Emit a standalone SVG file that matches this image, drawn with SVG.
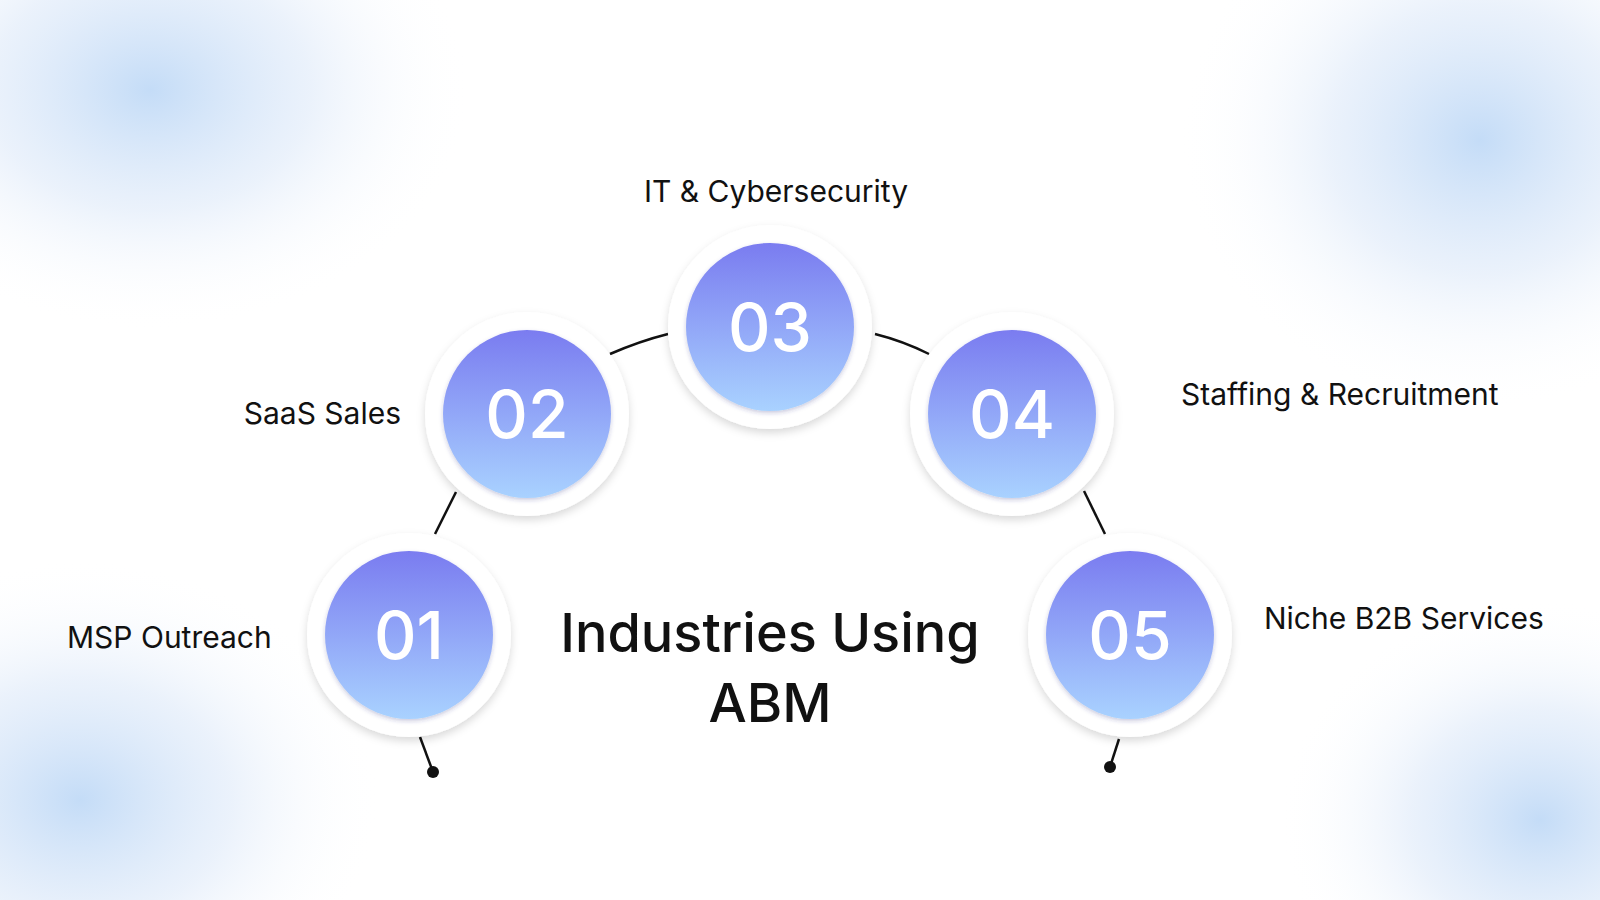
<svg xmlns="http://www.w3.org/2000/svg" width="1600" height="900" viewBox="0 0 1600 900">
<defs>
<radialGradient id="bg" cx="0.5" cy="0.5" r="0.5"><stop offset="0" stop-color="#c4dcf7"/><stop offset="0.5" stop-color="#dde9f9" stop-opacity="0.6"/><stop offset="1" stop-color="#ffffff" stop-opacity="0"/></radialGradient>
<linearGradient id="cg" x1="0" y1="0" x2="0" y2="1"><stop offset="0" stop-color="#7a7cf0"/><stop offset="1" stop-color="#a9d2ff"/></linearGradient>
<filter id="sh" x="-30%" y="-30%" width="160%" height="160%"><feDropShadow dx="0" dy="4" stdDeviation="4" flood-color="#000" flood-opacity="0.15"/></filter>
<filter id="sh2" x="-30%" y="-30%" width="160%" height="160%"><feDropShadow dx="0" dy="2" stdDeviation="2" flood-color="#303080" flood-opacity="0.25"/></filter>
</defs>
<style>
.lbl{font-family:Inter,"Liberation Sans",sans-serif;font-size:30px;fill:#111}
.num{font-family:Inter,"Liberation Sans",sans-serif;font-size:66px;font-weight:500;fill:#fff;text-anchor:middle}
.ttl{font-family:Inter,"Liberation Sans",sans-serif;font-size:54px;font-weight:500;fill:#111;text-anchor:middle}
.con{stroke:#111;stroke-width:2.5;fill:none}
</style>
<rect width="1600" height="900" fill="#fff"/>
<ellipse cx="150" cy="90" rx="320" ry="240" fill="url(#bg)"/>
<ellipse cx="1480" cy="140" rx="300" ry="270" fill="url(#bg)"/>
<ellipse cx="80" cy="800" rx="300" ry="240" fill="url(#bg)"/>
<ellipse cx="1540" cy="820" rx="260" ry="220" fill="url(#bg)"/>
<g id="connectors">
<path class="con" d="M435 534 L456 492"/>
<path class="con" d="M610 354 Q640 341 668 334"/>
<path class="con" d="M875 334 Q903 341 929 354"/>
<path class="con" d="M1084 491 L1105 534"/>
<path class="con" d="M420 737 L433 772"/><circle cx="433" cy="772" r="6" fill="#111"/>
<path class="con" d="M1119 739 L1110 767"/><circle cx="1110" cy="767" r="6" fill="#111"/>
</g>
<g id="n01"><circle cx="409" cy="635" r="102" fill="#fff" filter="url(#sh)"/><circle cx="409" cy="635" r="84" fill="url(#cg)" filter="url(#sh2)"/><text class="num" x="409" y="659">01</text><text class="lbl" x="67" y="648">MSP Outreach</text></g>
<g id="n02"><circle cx="527" cy="414" r="102" fill="#fff" filter="url(#sh)"/><circle cx="527" cy="414" r="84" fill="url(#cg)" filter="url(#sh2)"/><text class="num" x="527" y="438">02</text><text class="lbl" x="401" y="424" text-anchor="end">SaaS Sales</text></g>
<g id="n03"><circle cx="770" cy="327" r="102" fill="#fff" filter="url(#sh)"/><circle cx="770" cy="327" r="84" fill="url(#cg)" filter="url(#sh2)"/><text class="num" x="770" y="351">03</text><text class="lbl" x="776" y="202" text-anchor="middle">IT &amp; Cybersecurity</text></g>
<g id="n04"><circle cx="1012" cy="414" r="102" fill="#fff" filter="url(#sh)"/><circle cx="1012" cy="414" r="84" fill="url(#cg)" filter="url(#sh2)"/><text class="num" x="1012" y="438">04</text><text class="lbl" x="1181" y="405">Staffing &amp; Recruitment</text></g>
<g id="n05"><circle cx="1130" cy="635" r="102" fill="#fff" filter="url(#sh)"/><circle cx="1130" cy="635" r="84" fill="url(#cg)" filter="url(#sh2)"/><text class="num" x="1130" y="659">05</text><text class="lbl" x="1264" y="629">Niche B2B Services</text></g>
<g id="title"><text class="ttl" x="770" y="652">Industries Using</text><text class="ttl" x="770" y="722">ABM</text></g>
</svg>
